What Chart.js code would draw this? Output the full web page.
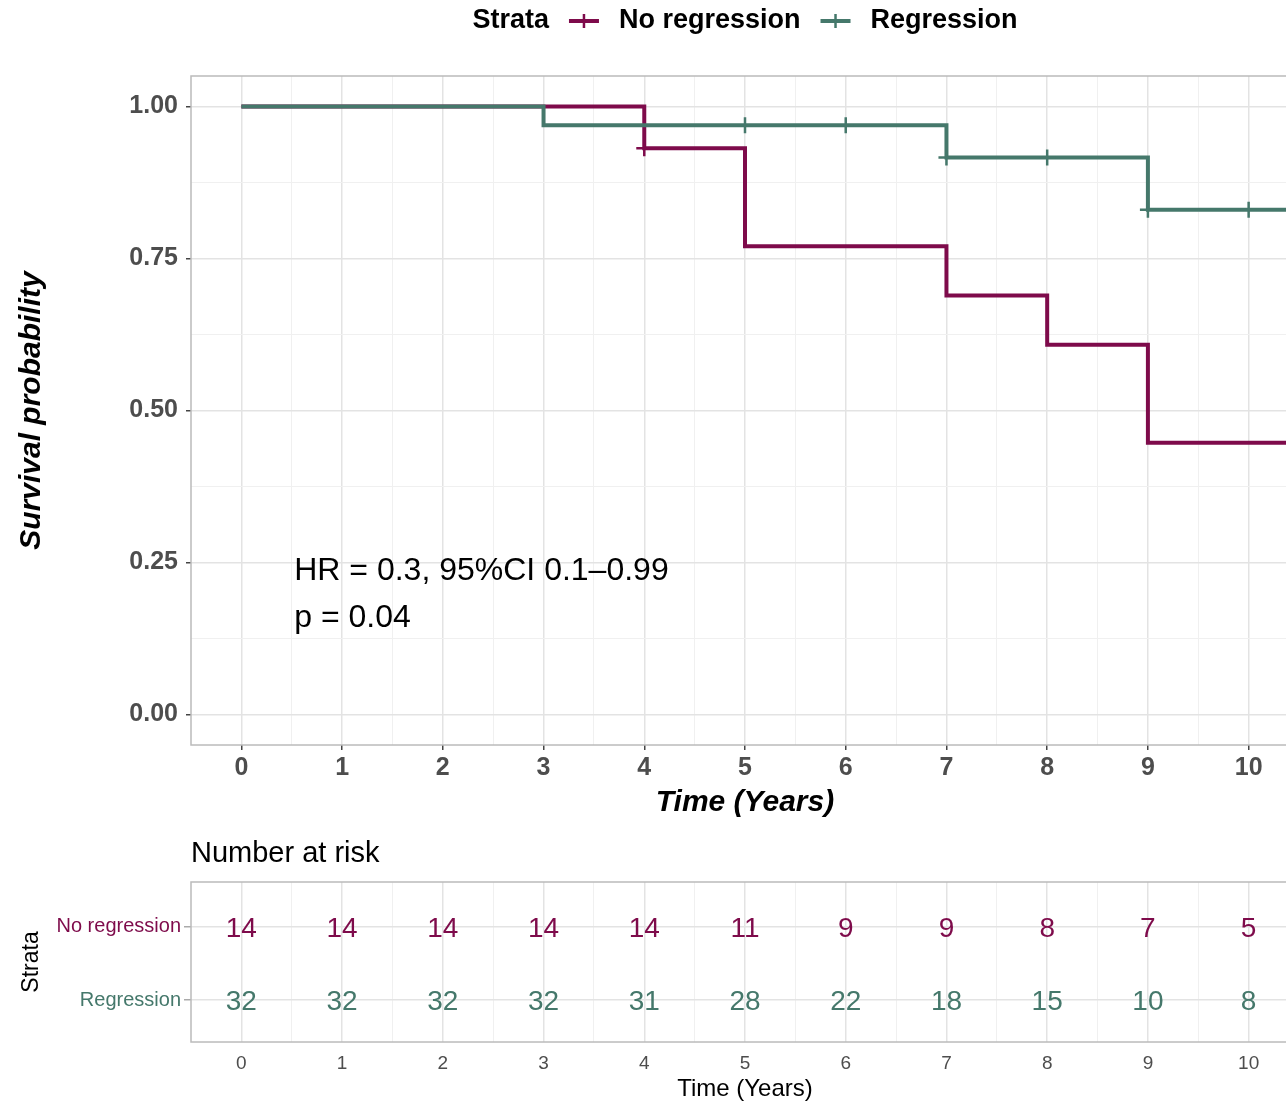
<!DOCTYPE html>
<html>
<head>
<meta charset="utf-8">
<script src="https://cdn.jsdelivr.net/npm/chart.js@4.4.1/dist/chart.umd.min.js"></script>
<style>
html,body{margin:0;padding:0;background:#fff;overflow:hidden;width:1286px;height:1104px;}
#wrap{position:relative;width:1300px;height:1104px;}
#km{position:absolute;left:0;top:0;}
#risk{position:absolute;left:0;top:830px;}
</style>
</head>
<body>
<div id="wrap">
<canvas id="km" width="1300" height="830"></canvas>
<canvas id="risk" width="1300" height="274"></canvas>
</div>
<script>
// ---------- data ----------
const strata = ['No regression', 'Regression'];
const legendTitle = 'Strata';

const timeNoReg = [0, 4, 5, 7, 8, 9, 10.5];
const survNoReg = [1.00, 0.931, 0.770, 0.689, 0.608, 0.447, 0.447];
const timeReg = [0, 3, 7, 9, 10.5];
const survReg = [1.00, 0.969, 0.916, 0.830, 0.830];

const censorTimeNoReg = [4];
const censorSurvNoReg = [0.931];
const censorTimeReg = [5, 6, 7, 8, 9, 10];
const censorSurvReg = [0.969, 0.969, 0.916, 0.916, 0.830, 0.830];

const xTicks = [0, 1, 2, 3, 4, 5, 6, 7, 8, 9, 10];
const yTicks = [0, 0.25, 0.5, 0.75, 1.0];

const riskTimes = [0, 1, 2, 3, 4, 5, 6, 7, 8, 9, 10];
const riskNoReg = [14, 14, 14, 14, 14, 11, 9, 9, 8, 7, 5];
const riskReg = [32, 32, 32, 32, 31, 28, 22, 18, 15, 10, 8];

const annotLines = ['HR = 0.3, 95%CI 0.1\u20130.99', 'p = 0.04'];

// ---------- style ----------
const FONT = "'Liberation Sans', Arial, Helvetica, sans-serif";
const colNoReg = '#7E0B4B';
const colReg = '#45786B';
const gridMajor = '#E3E3E3';
const gridMinor = '#F0F0F0';
const borderCol = '#BBBBBB';

function withMinor(majors) {
  const t = [];
  majors.forEach((v, i) => {
    t.push({ value: v, minor: false });
    if (i < majors.length - 1) t.push({ value: (v + majors[i + 1]) / 2, minor: true });
  });
  return t;
}
const isMinor = c => !!(c.tick && c.tick.minor);
const noPad = s => { s.paddingLeft = 0; s.paddingRight = 0; s.paddingTop = 0; s.paddingBottom = 0; };

const pairs = (xs, ys) => xs.map((x, i) => ({ x: x, y: ys[i] }));

const frame = {
  id: 'frame',
  afterDraw(chart) {
    const ca = chart.chartArea, ctx = chart.ctx;
    ctx.save();
    ctx.strokeStyle = borderCol;
    ctx.lineWidth = 1.5;
    ctx.strokeRect(ca.left, ca.top, ca.right - ca.left, ca.bottom - ca.top);
    ctx.restore();
  }
};

const kmLegend = {
  id: 'kmLegend',
  afterDraw(chart) {
    const ctx = chart.ctx, ca = chart.chartArea;
    ctx.save();
    ctx.font = 'bold 27px ' + FONT;
    ctx.textBaseline = 'middle';
    ctx.fillStyle = '#000';
    const y = 21, gap = 20, key = 30;
    const wT = ctx.measureText(legendTitle).width;
    const w1 = ctx.measureText(strata[0]).width;
    const w2 = ctx.measureText(strata[1]).width;
    const total = wT + gap + key + gap + w1 + gap + key + gap + w2;
    let x = (ca.left + ca.right) / 2 - total / 2;
    ctx.textAlign = 'left';
    ctx.fillText(legendTitle, x, y);
    x += wT + gap;
    const drawKey = (col) => {
      ctx.strokeStyle = col;
      ctx.lineWidth = 4;
      ctx.beginPath(); ctx.moveTo(x, y); ctx.lineTo(x + key, y); ctx.stroke();
      ctx.lineWidth = 2.5;
      ctx.beginPath(); ctx.moveTo(x + key / 2, y - 7); ctx.lineTo(x + key / 2, y + 7); ctx.stroke();
    };
    drawKey(colNoReg);
    x += key + gap;
    ctx.fillText(strata[0], x, y);
    x += w1 + gap;
    drawKey(colReg);
    x += key + gap;
    ctx.fillText(strata[1], x, y);

    // annotation
    const xs = chart.scales.x, ys = chart.scales.y;
    ctx.font = '32px ' + FONT;
    ctx.fillStyle = '#000';
    ctx.fillText(annotLines[0], xs.getPixelForValue(0.525), ys.getPixelForValue(0.236));
    ctx.fillText(annotLines[1], xs.getPixelForValue(0.525), ys.getPixelForValue(0.159));
    ctx.restore();
  }
};

const gridOpts = (tickCol, drawTicks) => ({
  color: c => isMinor(c) ? gridMinor : gridMajor,
  lineWidth: c => isMinor(c) ? 1 : 1.5,
  drawTicks: drawTicks,
  tickLength: 5,
  tickWidth: 1.5,
  tickColor: c => isMinor(c) ? 'rgba(0,0,0,0)' : tickCol
});

new Chart(document.getElementById('km'), {
  type: 'line',
  data: {
    datasets: [
      { label: strata[0] + ' censor', data: pairs(censorTimeNoReg, censorSurvNoReg), showLine: false,
        pointStyle: 'cross', pointRadius: 8, pointBorderWidth: 2.5, pointBorderColor: colNoReg,
        borderColor: colNoReg, backgroundColor: colNoReg, order: 0 },
      { label: strata[1] + ' censor', data: pairs(censorTimeReg, censorSurvReg), showLine: false,
        pointStyle: 'cross', pointRadius: 8, pointBorderWidth: 2.5, pointBorderColor: colReg,
        borderColor: colReg, backgroundColor: colReg, order: 0 },
      { label: strata[1], data: pairs(timeReg, survReg), stepped: 'before', borderColor: colReg,
        borderWidth: 4, pointRadius: 0, fill: false, borderJoinStyle: 'miter', order: 1 },
      { label: strata[0], data: pairs(timeNoReg, survNoReg), stepped: 'before', borderColor: colNoReg,
        borderWidth: 4, pointRadius: 0, fill: false, borderJoinStyle: 'miter', order: 2 }
    ]
  },
  options: {
    responsive: false,
    animation: false,
    devicePixelRatio: 1,
    layout: { autoPadding: false, padding: { top: 76, right: 1, left: 0, bottom: 0 } },
    plugins: { legend: { display: false }, tooltip: { enabled: false } },
    scales: {
      x: {
        type: 'linear', min: -0.5, max: 10.5,
        afterBuildTicks: s => { s.ticks = withMinor(xTicks); },
        afterFit: s => { s.height = 85; noPad(s); },
        grid: gridOpts('#444444', true),
        border: { display: false },
        ticks: { autoSkip: false, maxRotation: 0, padding: 3, color: '#4D4D4D',
          font: { family: FONT, size: 25, weight: 'bold' },
          callback: (v, i, t) => t[i].minor ? '' : String(v) },
        title: { display: true, text: 'Time (Years)', color: '#000',
          font: { family: FONT, size: 30, weight: 'bold', style: 'italic' },
          padding: { top: 0, bottom: 9 } }
      },
      y: {
        type: 'linear', min: -0.05, max: 1.05,
        afterBuildTicks: s => { s.ticks = withMinor(yTicks); },
        afterFit: s => { s.width = 191; noPad(s); },
        grid: gridOpts('#444444', true),
        border: { display: false },
        ticks: { autoSkip: false, padding: 8, color: '#4D4D4D',
          font: { family: FONT, size: 25, weight: 'bold' },
          callback: (v, i, t) => t[i].minor ? '' : Number(v).toFixed(2) },
        title: { display: true, text: 'Survival probability', color: '#000',
          font: { family: FONT, size: 30, weight: 'bold', style: 'italic' },
          padding: { top: 14, bottom: 0 } }
      }
    }
  },
  plugins: [frame, kmLegend]
});

// ---------- risk table ----------
const riskText = {
  id: 'riskText',
  afterDatasetsDraw(chart) {
    const ctx = chart.ctx;
    ctx.save();
    ctx.font = '28px ' + FONT;
    ctx.textAlign = 'center';
    ctx.textBaseline = 'middle';
    chart.data.datasets.forEach((ds, i) => {
      const meta = chart.getDatasetMeta(i);
      ctx.fillStyle = ds.textColor;
      meta.data.forEach((pt, j) => { ctx.fillText(String(ds.counts[j]), pt.x, pt.y + 2); });
    });
    ctx.font = '29px ' + FONT;
    ctx.textAlign = 'left';
    ctx.fillStyle = '#000';
    ctx.fillText('Number at risk', chart.chartArea.left, 24);
    ctx.restore();
  }
};

new Chart(document.getElementById('risk'), {
  type: 'line',
  data: {
    datasets: [
      { label: strata[0], data: riskTimes.map(t => ({ x: t, y: 2 })), counts: riskNoReg,
        textColor: colNoReg, showLine: false, pointRadius: 0 },
      { label: strata[1], data: riskTimes.map(t => ({ x: t, y: 1 })), counts: riskReg,
        textColor: colReg, showLine: false, pointRadius: 0 }
    ]
  },
  options: {
    responsive: false,
    animation: false,
    devicePixelRatio: 1,
    layout: { autoPadding: false, padding: { top: 52, right: 1, left: 0, bottom: 0 } },
    plugins: { legend: { display: false }, tooltip: { enabled: false } },
    scales: {
      x: {
        type: 'linear', min: -0.5, max: 10.5,
        afterBuildTicks: s => { s.ticks = withMinor(xTicks); },
        afterFit: s => { s.height = 62; noPad(s); },
        grid: gridOpts('#999999', false),
        border: { display: false },
        ticks: { autoSkip: false, maxRotation: 0, padding: 10, color: '#4D4D4D',
          font: { family: FONT, size: 19 },
          callback: (v, i, t) => t[i].minor ? '' : String(v) },
        title: { display: true, text: 'Time (Years)', color: '#000',
          font: { family: FONT, size: 24 }, padding: { top: 0, bottom: 0 } }
      },
      y: {
        type: 'linear', min: 0.425, max: 2.616,
        afterBuildTicks: s => { s.ticks = [{ value: 1 }, { value: 2 }]; },
        afterFit: s => { s.width = 191; noPad(s); },
        grid: { color: gridMajor, lineWidth: 1.5, drawTicks: true, tickLength: 7, tickWidth: 1.5, tickColor: '#AAAAAA' },
        border: { display: false },
        ticks: { autoSkip: false, padding: 3,
          color: c => (c.tick && c.tick.value === 2) ? colNoReg : colReg,
          font: { family: FONT, size: 20 },
          callback: v => v === 2 ? strata[0] : strata[1] },
        title: { display: true, text: 'Strata', color: '#000',
          font: { family: FONT, size: 23 }, padding: { top: 18, bottom: 0 } }
      }
    }
  },
  plugins: [frame, riskText]
});
</script>
</body>
</html>
